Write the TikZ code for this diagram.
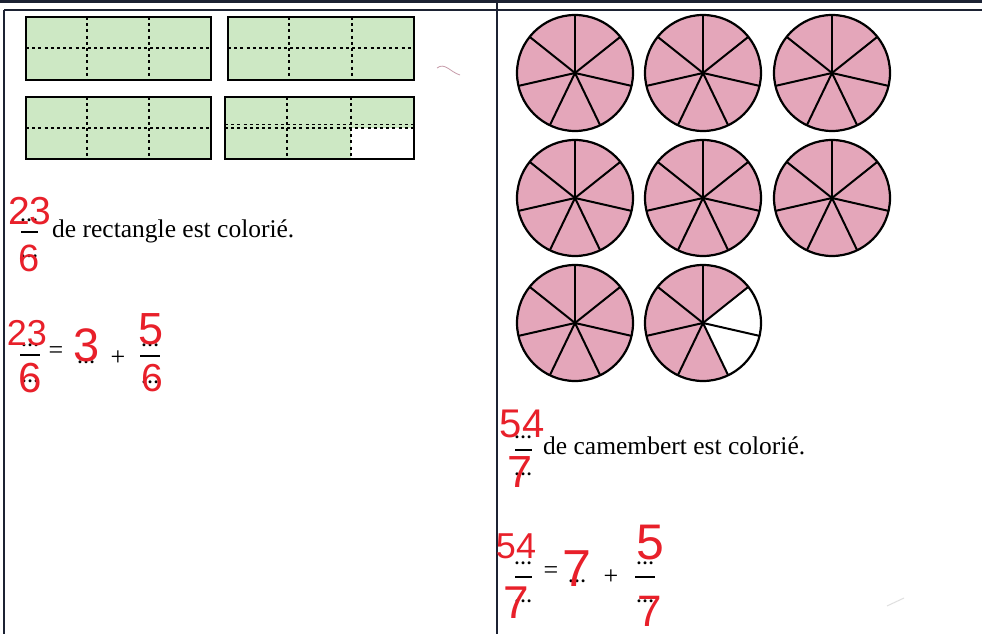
\documentclass[tikz,border=0pt]{standalone}
\usepackage{fontspec}
\setmainfont{Liberation Serif}
\newfontfamily\hand{Liberation Sans}
\definecolor{gfill}{HTML}{CDE8C4}
\definecolor{pfill}{HTML}{E4A6BA}
\definecolor{inkred}{HTML}{E8202A}
\definecolor{rule}{HTML}{1C2233}
\tikzset{
  box/.style={draw=black,line width=2.2pt,fill=gfill},
  dotline/.style={draw=black,line width=2pt,dash pattern=on 3pt off 3.2pt},
  spoke/.style={draw=black,line width=2pt},
  txt/.style={inner sep=0pt,font=\fontsize{25.5}{28}\selectfont},
  red/.style={inner sep=0pt,text=inkred,font=\hand\fontsize{#1}{#1}\selectfont},
  dots/.style={inner sep=0pt,font=\bfseries\fontsize{18}{18}\selectfont},
  sym/.style={inner sep=0pt,font=\fontsize{26}{26}\selectfont},
  bar/.style={draw=black,line width=1.8pt}
}
\newcommand{\rectgrid}[6]{% x1 ytop x2 ybot v1 v2
  \path[box] (#1,#2) rectangle (#3,#4);
  \draw[dotline] (#1,{(#2+#4)/2}) -- (#3,{(#2+#4)/2});
  \draw[dotline] (#5,#2) -- (#5,#4);
  \draw[dotline] (#6,#2) -- (#6,#4);
  \path[draw=black,line width=2.2pt] (#1,#2) rectangle (#3,#4);
}
\newcommand{\mypie}[2]{% cx cy
  \fill[pfill] (#1,#2) circle (58);
  \foreach \a in {90,38.571,-12.857,-64.286,-115.714,-167.143,141.429}
    \draw[spoke] (#1,#2) -- ++(\a:58);
  \draw[line width=2.2pt] (#1,#2) circle (58);
}
\begin{document}
\begin{tikzpicture}[x=1pt,y=1pt]
\useasboundingbox (0,0) rectangle (982,634);
\fill[white] (0,0) rectangle (982,634);
% table rules
\draw[rule,line width=3pt] (0,632) -- (982,632);
\draw[rule,line width=2pt] (4,624) -- (982,624);
\draw[rule,line width=2.5pt] (4,624) -- (4,0);
\draw[rule,line width=2.5pt] (497,634) -- (497,0);
% rectangles
\rectgrid{26}{617}{211}{554}{87}{149}
\rectgrid{228}{617}{414}{554}{289}{352}
\rectgrid{26}{537}{211}{475}{87}{149}
\fill[gfill] (225,537) rectangle (414,475);
\fill[white] (351,506) rectangle (414,475);
\draw[dotline] (225,506) -- (414,506);
\draw[dotline,line width=1.3pt] (225,509.5) -- (414,509.5);
\draw[dotline] (287,537) -- (287,475);
\draw[dotline] (351,537) -- (351,475);
\draw[line width=2.2pt] (225,537) rectangle (414,475);
% stray marks
\draw[draw=pfill!70!gray,line width=0.8pt] (437,566) .. controls (445,572) and (450,562) .. (460,559);
\draw[draw=gray!25,line width=1pt] (887,28) -- (904,36);
% pies
\mypie{575}{561}
\mypie{703}{561}
\mypie{832}{561}
\mypie{575}{436}
\mypie{703}{436}
\mypie{832}{436}
\mypie{575}{311}
\fill[white] (703,311) circle (58);
\fill[pfill] (703,311) -- ++(38.571:58) arc (38.571:295.714:58) -- cycle;
\foreach \a in {90,38.571,-12.857,-64.286,-115.714,-167.143,141.429}
  \draw[spoke] (703,311) -- ++(\a:58);
\draw[line width=2.2pt] (703,311) circle (58);
% left fraction sentence
\node[txt,anchor=base west] (t1) at (52,396) {de rectangle est colorié.};
\draw[bar] (21,402) -- (38,402);
\node[dots] (d1a) at (29,414) {…};
\node[dots] (d1b) at (29,378) {…};
\node[red=39] (n1) at (30,423) {23};
\node[red=38] (m1) at (29,376) {6};
% left equation
\draw[bar] (20,279) -- (40,279);
\node[dots] (d2a) at (30,289) {…};
\node[dots] (d2b) at (30,253) {…};
\node[red=36] (n2) at (27,301) {23};
\node[red=42] (m2) at (30,256) {6};
\node[sym] (eq1) at (56,281) {=};
\node[dots] (d3) at (86,272) {…};
\node[red=47] (w1) at (87,289) {3};
\node[sym] (pl1) at (118,276) {+};
\draw[bar] (140,278) -- (160,278);
\node[dots] (d4a) at (150,289) {…};
\node[dots] (d4b) at (150,252) {…};
\node[red=45] (n3) at (151,305) {5};
\node[red=39] (m3) at (152,256) {6};
% right fraction sentence
\node[txt,anchor=base west] (t2) at (543,179) {de camembert est colorié.};
\draw[bar] (515,184) -- (532,184);
\node[dots] (d5a) at (523,197) {…};
\node[dots] (d5b) at (523,160) {…};
\node[red=40] (n4) at (522,210) {54};
\node[red=45] (m4) at (520,162) {7};
% right equation
\draw[bar] (515,57) -- (532,57);
\node[dots] (d6a) at (523,71) {…};
\node[dots] (d6b) at (523,33) {…};
\node[red=36] (n5) at (516,88) {54};
\node[red=46] (m5) at (516,31) {7};
\node[sym] (eq2) at (551,61) {=};
\node[dots] (d7) at (577,53) {…};
\node[red=52] (w2) at (577,65) {7};
\node[sym] (pl2) at (611,57) {+};
\draw[bar] (635,57) -- (655,57);
\node[dots] (d8a) at (645,71) {…};
\node[dots] (d8b) at (645,33) {…};
\node[red=50] (n6) at (650,91) {5};
\node[red=44] (m6) at (650,23) {7};
\end{tikzpicture}
\end{document}
